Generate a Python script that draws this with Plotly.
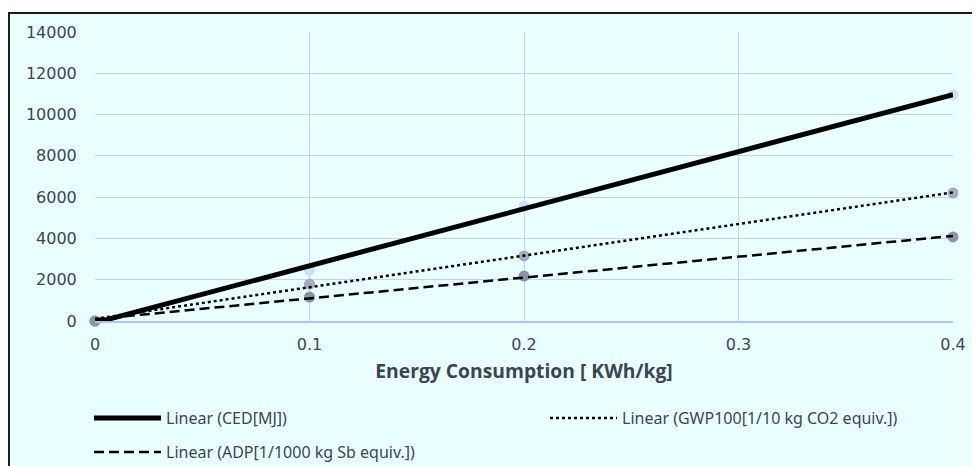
import numpy as np
import plotly.graph_objects as go

# ---- data ----
energy = [0.0, 0.1, 0.2, 0.4]                  # KWh/kg
ced = [0, 2470, 5570, 10950]                   # CED [MJ]
gwp = [0, 1790, 3150, 6200]                    # GWP100 [1/10 kg CO2 equiv.]
adp = [0, 1160, 2180, 4070]                    # ADP [1/1000 kg Sb equiv.]
x_ticks = [0, 0.1, 0.2, 0.3, 0.4]
y_ticks = [0, 2000, 4000, 6000, 8000, 10000, 12000, 14000]

names = ["Linear (CED[MJ])",
         "Linear (GWP100[1/10 kg CO2 equiv.])",
         "Linear (ADP[1/1000 kg Sb equiv.])"]

BG = "#eaffff"
TXT = "#3c4452"
GRID = "#c6d3ee"

fig = go.Figure()

series = [ced, gwp, adp]
marker_cols = ["#d2def6", "#a3acc2", "#8b93a6"]
line_styles = [dict(color="black", width=5, dash="solid"),
               dict(color="black", width=2.5, dash="dot"),
               dict(color="black", width=2.5, dash="10px,5px")]
legends = ["legend", "legend2", "legend3"]

# markers first (trendlines drawn over them)
for vals, mc in zip(series, marker_cols):
    fig.add_trace(go.Scatter(x=energy, y=vals, mode="markers",
                             marker=dict(size=11, color=mc),
                             showlegend=False, cliponaxis=False,
                             hoverinfo="skip"))

xs = np.array(energy)
xline = np.array([min(energy), max(energy)])
for vals, ls, nm, lg in zip(series, line_styles, names, legends):
    k, b = np.polyfit(xs, np.array(vals, dtype=float), 1)
    fig.add_trace(go.Scatter(x=xline, y=k * xline + b, mode="lines",
                             line=ls, name=nm, legend=lg))

# frame of the chart area
fig.add_shape(type="rect", xref="paper", yref="paper",
              x0=-0.1003, x1=1.06, y0=-0.56, y1=1.066,
              line=dict(color="#1a1a1a", width=2), fillcolor=BG, layer="below")

leg_common = dict(orientation="v", bgcolor="rgba(0,0,0,0)", borderwidth=0,
                  font=dict(family="Noto Sans", size=16, color=TXT),
                  itemwidth=67, yanchor="middle", xanchor="left",
                  itemclick=False, itemdoubleclick=False)

fig.update_layout(
    width=980, height=466,
    margin=dict(l=87, r=35, t=24, b=153, autoexpand=False),
    paper_bgcolor="white", plot_bgcolor=BG,
    font=dict(family="DejaVu Sans", color=TXT),
    xaxis=dict(range=[0, 0.4], tickvals=x_ticks, ticktext=[str(t) for t in x_ticks],
               showgrid=True, gridcolor=GRID, gridwidth=1,
               zeroline=False, showline=True, linecolor="#b4c3e4", linewidth=2,
               ticks="outside", ticklen=8, tickcolor="rgba(0,0,0,0)",
               tickfont=dict(family="DejaVu Sans", size=16, color=TXT),
               title=dict(text="<b>Energy Consumption [ KWh/kg]</b>",
                          font=dict(family="Open Sans", size=19.3, color=TXT),
                          standoff=11)),
    yaxis=dict(range=[0, 14000], tickvals=y_ticks, ticktext=[str(t) for t in y_ticks],
               showgrid=True, gridcolor=GRID, gridwidth=1, zeroline=False,
               ticks="outside", ticklen=14, tickcolor="rgba(0,0,0,0)",
               tickfont=dict(family="DejaVu Sans", size=16, color=TXT)),
    legend=dict(x=(89 - 95) / 858, y=(321 - 418) / 289, **leg_common),
    legend2=dict(x=(545 - 95) / 858, y=(321 - 418) / 289, **leg_common),
    legend3=dict(x=(89 - 95) / 858, y=(321 - 452) / 289, **leg_common),
)

fig.write_html("out.html")
